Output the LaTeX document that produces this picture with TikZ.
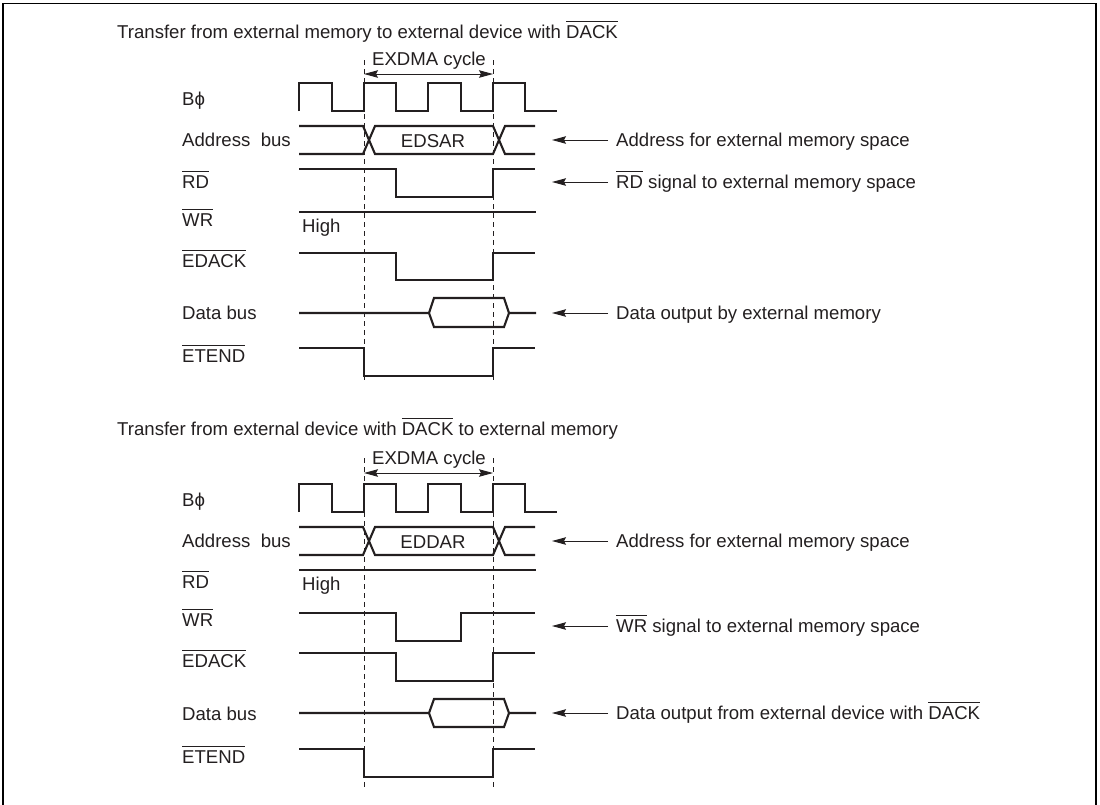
\documentclass[tikz,border=0pt]{standalone}
\usepackage{fontspec}
\setmainfont{Liberation Sans}
\usetikzlibrary{arrows.meta, positioning, calc}
\definecolor{cink}{HTML}{231F20}
\newcommand{\sig}[1]{$\overline{\mbox{\rule{0pt}{15pt}#1}}$}
\tikzset{
  every picture/.style={x=1pt, y=-1pt, font=\fontsize{18.6}{21}\selectfont, text=cink},
  wave/.style={draw=cink, line width=2.1pt, line join=miter},
  guide/.style={draw=cink, line width=0.9pt, dash pattern=on 5pt off 4pt},
  label/.style={anchor=base west, inner sep=0pt},
  center/.style={anchor=base, inner sep=0pt},
  callout/.style={-{Stealth[length=14pt, width=7.5pt, inset=2pt]}, draw=cink, line width=0.9pt},
  span/.style={{Stealth[length=14pt, width=7.5pt, inset=2pt]}-{Stealth[length=14pt, width=7.5pt, inset=2pt]}, draw=cink, line width=0.9pt},
}
\begin{document}
\begin{tikzpicture}
  \useasboundingbox (0,0) rectangle (1100,804);
  % frame
  \draw[draw=black, line width=1.6pt] (3,810) |- (1096,3.5) -- (1096,810);
  % first transfer
  \node[label] (title1) at (117,38) {Transfer from external memory to external device with \sig{DACK}};
  \coordinate (g1a) at (364,60);
  \coordinate (g1b) at (493,60);
  \coordinate (e1a) at (364,383);
  \coordinate (e1b) at (493,383);
  \draw[guide] (g1a) -- (e1a);
  \draw[guide] (g1b) -- (e1b);
  \node[center] (cyc1) at (429,65) {EXDMA cycle};
  \draw[span] (g1a |- 0,74) -- (g1b |- 0,74);
  \foreach \y/\lab in {105/B\char"03D5,146/Address~~bus,188/\sig{RD},226/\sig{WR},267/\sig{EDACK},319/Data bus,362/\sig{ETEND}}{
    \node[label] at (182,\y) {\lab};
  }
  \draw[wave] (299,111) |- (332,83) |- (364,111) |- (396,83) |- (428,111) |- (461,83) |- (493,111) |- (525,83) |- (557,111);
  \draw[wave] (299,126) -- (363,126) -- (375,154) -- (493,154) -- (505,126) -- (535,126);
  \draw[wave] (299,154) -- (363,154) -- (375,126) -- (493,126) -- (505,154) -- (535,154);
  \node[center] (bus1) at (433,147) {EDSAR};
  \draw[wave] (299,169) -| (396,197) -| (493,169) -- (535,169);
  \draw[wave] (299,212) -- (536,212);
  \node[label] (high1) at (302,232) {High};
  \draw[wave] (299,253) -| (396,280) -| (493,253) -- (535,253);
  \draw[wave] (299,313) -- (429,313) -- (434,298) -- (504,298) -- (509,313) -- (536,313);
  \draw[wave] (429,313) -- (434,327) -- (504,327) -- (509,313);
  \draw[wave] (299,348) -| (364,376) -| (493,348) -- (535,348);
  % callouts of the first transfer
  \foreach \y/\name/\lab in {146/a/Address for external memory space,188/b/\sig{RD} signal to external memory space,319/c/Data output by external memory}{
    \node[label] (note1\name) at (616,\y) {\lab};
    \coordinate (tip1\name) at (552,\y-6);
    \draw[callout] ($(note1\name.base west)+(-8,-6)$) -- (tip1\name);
  }
  % second transfer
  \node[label] (title2) at (117,435) {Transfer from external device with \sig{DACK} to external memory};
  \coordinate (g2a) at (364,458);
  \coordinate (g2b) at (493,458);
  \coordinate (e2a) at (364,788);
  \coordinate (e2b) at (493,788);
  \draw[guide] (g2a) -- (e2a);
  \draw[guide] (g2b) -- (e2b);
  \node[center] (cyc2) at (429,464) {EXDMA cycle};
  \draw[span] (g2a |- 0,473) -- (g2b |- 0,473);
  \foreach \y/\lab in {506/B\char"03D5,547/Address~~bus,588/\sig{RD},626/\sig{WR},667/\sig{EDACK},720/Data bus,763/\sig{ETEND}}{
    \node[label] at (182,\y) {\lab};
  }
  \draw[wave] (299,512) |- (332,484) |- (364,512) |- (396,484) |- (428,512) |- (461,484) |- (493,512) |- (525,484) |- (557,512);
  \draw[wave] (299,527) -- (363,527) -- (375,555) -- (493,555) -- (505,527) -- (535,527);
  \draw[wave] (299,555) -- (363,555) -- (375,527) -- (493,527) -- (505,555) -- (535,555);
  \node[center] (bus2) at (433,548) {EDDAR};
  \draw[wave] (299,570) -- (536,570);
  \node[label] (high2) at (302,590) {High};
  \draw[wave] (299,613) -| (396,641) -| (461,613) -- (535,613);
  \draw[wave] (299,653) -| (396,681) -| (493,653) -- (535,653);
  \draw[wave] (299,713) -- (429,713) -- (434,699) -- (504,699) -- (509,713) -- (536,713);
  \draw[wave] (429,713) -- (434,727) -- (504,727) -- (509,713);
  \draw[wave] (299,749) -| (364,777) -| (493,749) -- (535,749);
  % callouts of the second transfer
  \foreach \y/\name/\lab in {547/a/Address for external memory space,632/b/\sig{WR} signal to external memory space,719/c/Data output from external device with \sig{DACK}}{
    \node[label] (note2\name) at (616,\y) {\lab};
    \coordinate (tip2\name) at (552,\y-6);
    \draw[callout] ($(note2\name.base west)+(-8,-6)$) -- (tip2\name);
  }
\end{tikzpicture}
\end{document}
